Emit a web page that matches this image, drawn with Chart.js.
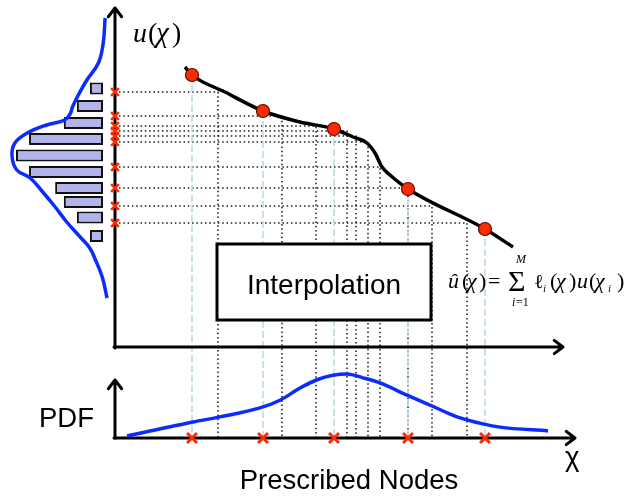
<!DOCTYPE html>
<html>
<head>
<meta charset="utf-8">
<script src="https://cdn.jsdelivr.net/npm/chart.js@4.4.0/dist/chart.umd.min.js"></script>
<style>
  html, body { margin: 0; padding: 0; background: #fff; }
  canvas { display: block; }
</style>
</head>
<body>
<canvas id="diagram" width="626" height="497"></canvas>
<script>
// ===== DATA (diagram units: chi along the bottom, u up the side) =====
// model response u(chi)
const curveChi = [7.0, 7.7, 11.0, 14.8, 18.5, 21.9, 23.8, 25.2, 26.0, 26.7, 27.5, 29.3, 37.0, 39.8];
const curveU   = [28.0, 27.2, 25.5, 23.6, 22.5, 21.8, 21.0, 20.4, 19.4, 18.0, 17.2, 15.8, 11.8, 10.0];

// prescribed interpolation nodes
const nodeChi = [7.7, 14.8, 21.9, 29.3, 37.0];
const nodeU   = [27.2, 23.6, 21.8, 15.8, 11.8];

// random samples chi_k and their responses u(chi_k)
const sampleChi = [10.3, 16.7, 20.1, 23.2, 24.1, 25.3, 26.5, 29.3, 31.7, 35.2];
const sampleU   = [25.5, 23.1, 22.1, 21.6, 21.1, 20.5, 18.0, 15.9, 14.1, 12.4];

// input PDF (bottom panel)
const pdfChi = [1.2, 7.8, 10.5, 14.5, 16.5, 18.5, 20.2, 21.8, 23.2, 24.8, 26.5, 29.2, 31.7, 34.2, 36.8, 38.5, 43.3];
const pdfVal = [0.03, 0.25, 0.33, 0.47, 0.59, 0.78, 0.91, 0.98, 1.00, 0.94, 0.86, 0.67, 0.50, 0.33, 0.22, 0.17, 0.11];

// output histogram (left panel)
const histU      = [25.85, 24.1, 22.4, 20.8, 19.15, 17.5, 15.9, 14.5, 12.95, 11.1];
const histCounts = [3, 6, 9, 17, 20, 17, 11, 9, 6, 3];

// output PDF (left panel, sideways)
const outU   = [32.9, 30.4, 28.4, 26.7, 25.0, 24.0, 23.4, 22.7, 22.2, 21.4, 20.4, 19.1, 17.7, 16.9, 15.5, 14.0, 12.5, 11.0, 9.9, 8.7, 7.0, 4.9];
const outPdf = [0.03, 0.05, 0.10, 0.22, 0.32, 0.37, 0.39, 0.45, 0.64, 0.84, 0.97, 1.00, 0.95, 0.81, 0.68, 0.55, 0.43, 0.29, 0.19, 0.13, 0.06, 0.01];

// ===== STYLE =====
const SANS = '"Liberation Sans", Arial, sans-serif';
const SERIF = '"Liberation Serif", "Times New Roman", serif';
const RED = "#ff2a00";
const BLUE = "#0a2cff";
const LIGHTBLUE = "#b8dde6";

const zip = (xs, ys) => xs.map((v, i) => ({ x: v, y: ys[i] }));

// arrow shaped axis line (open chevron head)
function arrowLine(ctx, x0, y0, x1, y1) {
    const a = Math.atan2(y1 - y0, x1 - x0);
    const len = 11, spread = 0.65;
    ctx.beginPath();
    ctx.moveTo(x0, y0);
    ctx.lineTo(x1, y1);
    ctx.moveTo(x1 - len * Math.cos(a - spread), y1 - len * Math.sin(a - spread));
    ctx.lineTo(x1, y1);
    ctx.lineTo(x1 - len * Math.cos(a + spread), y1 - len * Math.sin(a + spread));
    ctx.stroke();
}

// guides, box and axes go under the datasets
const backdrop = {
    id: "backdrop",
    beforeDatasetsDraw(chart) {
        const ctx = chart.ctx;
        const sx = chart.scales.x, sy = chart.scales.y, sp = chart.scales.yPdf;
        const x0 = sx.getPixelForValue(0);
        const y0 = sy.getPixelForValue(0);
        const yBase = sp.getPixelForValue(0);
        ctx.save();

        // dotted projections of the samples
        ctx.strokeStyle = "#1a1a1a";
        ctx.lineWidth = 1.5;
        ctx.setLineDash([1.5, 2.8]);
        sampleChi.forEach((c, i) => {
            const X = sx.getPixelForValue(c), Y = sy.getPixelForValue(sampleU[i]);
            ctx.beginPath();
            ctx.moveTo(x0 + 4, Y);
            ctx.lineTo(X, Y);
            ctx.lineTo(X, yBase);
            ctx.stroke();
        });

        // light blue dashed drops from the nodes
        ctx.strokeStyle = LIGHTBLUE;
        ctx.lineWidth = 1.6;
        ctx.setLineDash([7, 3]);
        nodeChi.forEach((c, i) => {
            const X = sx.getPixelForValue(c);
            ctx.beginPath();
            ctx.moveTo(X, sy.getPixelForValue(nodeU[i]));
            ctx.lineTo(X, yBase);
            ctx.stroke();
        });
        ctx.setLineDash([]);

        // "Interpolation" box
        ctx.fillStyle = "#fff";
        ctx.fillRect(217, 244, 214, 76);
        ctx.strokeStyle = "#000";
        ctx.lineWidth = 3;
        ctx.strokeRect(217, 244, 214, 76);

        // axes
        ctx.lineCap = "round";
        ctx.lineJoin = "round";
        arrowLine(ctx, x0, y0 + 1, x0, 8);
        arrowLine(ctx, x0 - 1, y0, 563, y0);
        arrowLine(ctx, x0, yBase, x0, 380);
        arrowLine(ctx, x0 - 1, yBase, 575, yBase);
        ctx.restore();
    },
    afterDraw(chart) {
        const ctx = chart.ctx;
        ctx.save();
        ctx.fillStyle = "#000";
        ctx.textBaseline = "alphabetic";

        ctx.font = "28px " + SANS;
        ctx.textAlign = "center";
        ctx.fillText("Interpolation", 324, 294);
        ctx.font = "27.5px " + SANS;
        ctx.fillText("Prescribed Nodes", 349, 489);
        ctx.textAlign = "left";
        ctx.fillText("PDF", 39, 427);
        ctx.fillText("χ", 565, 466);

        // u(chi) label
        const runsTop = [
            [133, 42, "u", "italic 28px " + SERIF],
            [148, 42, "(", "28px " + SERIF],
            [156, 42, "χ", "italic 29px " + SERIF],
            [172, 42, ")", "28px " + SERIF]
        ];
        // interpolant formula
        const runsFormula = [
            [448, 288, "û", "italic 22px " + SERIF],
            [462, 288, "(", "22px " + SERIF],
            [467, 288, "χ", "italic 22px " + SERIF],
            [479, 288, ")", "22px " + SERIF],
            [488, 288, "=", "22px " + SERIF],
            [508, 291, "Σ", "30px " + SERIF],
            [516, 263, "M", "italic 12px " + SERIF],
            [512, 306, "i", "italic 12px " + SERIF],
            [516, 306, "=1", "12px " + SERIF],
            [534, 288, "ℓ", "20px " + SERIF],
            [543, 292, "i", "italic 11px " + SERIF],
            [550, 288, "(", "22px " + SERIF],
            [556, 288, "χ", "italic 22px " + SERIF],
            [569, 288, ")", "22px " + SERIF],
            [577, 288, "u", "italic 22px " + SERIF],
            [589, 288, "(", "22px " + SERIF],
            [595, 288, "χ", "italic 22px " + SERIF],
            [608, 292, "i", "italic 11px " + SERIF],
            [617, 288, ")", "22px " + SERIF]
        ];
        runsTop.concat(runsFormula).forEach(([x, y, t, f]) => {
            ctx.font = f;
            ctx.fillText(t, x, y);
        });
        ctx.restore();
    }
};

// hidden linear scale; only two ticks so bar sizing follows the data spacing
const hidden = (min, max, extra) => Object.assign({
    type: "linear", display: false, bounds: "data", offset: false,
    min: min, max: max, ticks: { count: 2 }
}, extra);

new Chart(document.getElementById("diagram"), {
    type: "line",
    data: {
        datasets: [
            {
                // interpolation nodes
                data: zip(nodeChi, nodeU),
                showLine: false,
                pointStyle: "circle",
                pointRadius: 6.5,
                pointBackgroundColor: RED,
                pointBorderColor: "#5a0d00",
                pointBorderWidth: 1.2,
                order: 0
            },
            {
                // samples on the u axis
                data: sampleU.map(u => ({ x: 0, y: u })),
                showLine: false,
                pointStyle: "crossRot",
                pointRadius: 5.5,
                pointBorderColor: RED,
                pointBorderWidth: 2.5,
                order: 1
            },
            {
                // nodes on the chi axis
                data: nodeChi.map(c => ({ x: c, y: 0 })),
                yAxisID: "yPdf",
                showLine: false,
                pointStyle: "crossRot",
                pointRadius: 7,
                pointBorderColor: RED,
                pointBorderWidth: 3,
                order: 1
            },
            {
                // u(chi)
                data: zip(curveChi, curveU),
                borderColor: "#000",
                borderWidth: 3.5,
                pointRadius: 0,
                cubicInterpolationMode: "monotone",
                order: 2
            },
            {
                // input pdf
                data: zip(pdfChi, pdfVal),
                yAxisID: "yPdf",
                borderColor: BLUE,
                borderWidth: 3.5,
                pointRadius: 0,
                cubicInterpolationMode: "monotone",
                order: 3
            },
            {
                // output pdf, sideways
                data: zip(outPdf, outU),
                xAxisID: "xPdf",
                borderColor: BLUE,
                borderWidth: 3.5,
                pointRadius: 0,
                tension: 0.4,
                order: 3
            },
            {
                // output histogram
                type: "bar",
                indexAxis: "y",
                data: histU.map((u, i) => ({ x: [0, histCounts[i]], y: u })),
                xAxisID: "xHist",
                yAxisID: "y",
                grouped: false,
                categoryPercentage: 1,
                barPercentage: 0.85,
                maxBarThickness: 12,
                backgroundColor: "#b3b4e8",
                borderColor: "#111",
                borderWidth: 2,
                borderSkipped: false,
                order: 4
            }
        ]
    },
    options: {
        responsive: false,
        animation: false,
        events: [],
        layout: { padding: 0, autoPadding: false },
        plugins: {
            legend: { display: false },
            tooltip: { enabled: false }
        },
        scales: {
            x:     hidden(-11.5, 51.1),
            y:     hidden(-15.0, 34.7),
            yPdf:  hidden(-0.922, 6.844, { position: "left" }),
            xPdf:  hidden(-5.396, 1.125, { position: "bottom", reverse: true }),
            xHist: hidden(-120.23, 23.68, { position: "bottom", reverse: true })
        }
    },
    plugins: [backdrop]
});
</script>
</body>
</html>
